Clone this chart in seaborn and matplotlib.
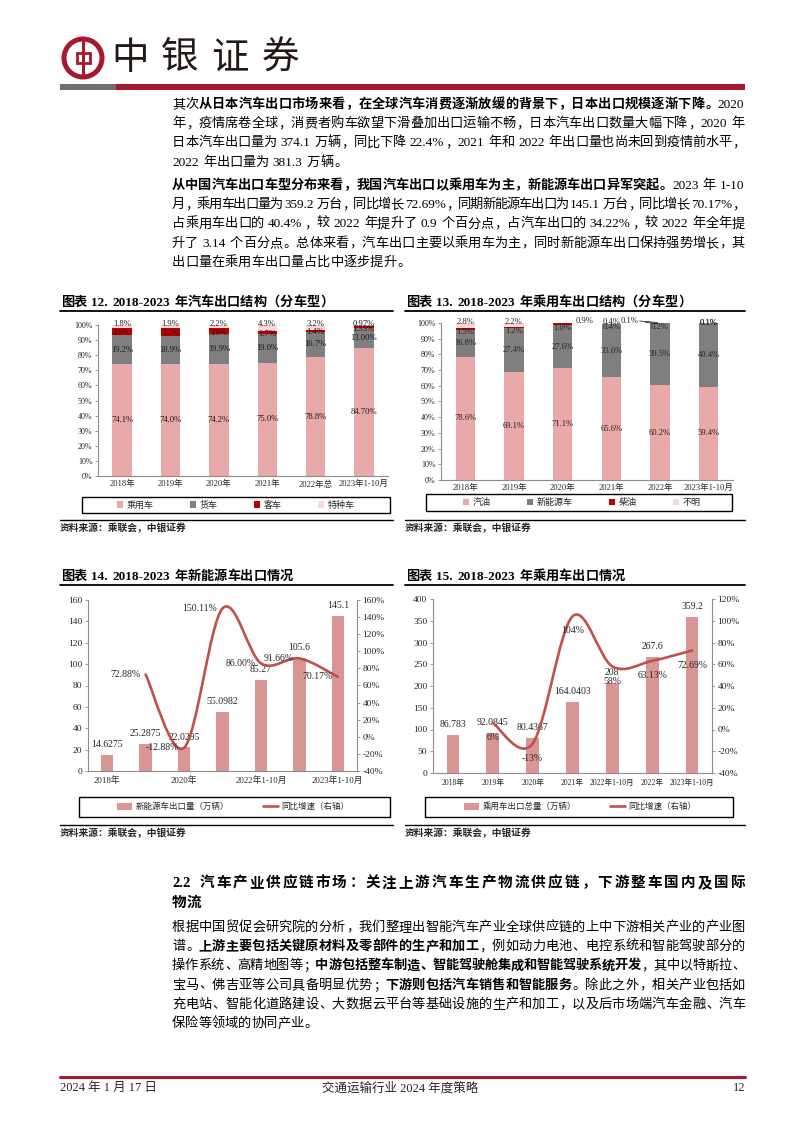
import numpy as np
import pandas as pd
import matplotlib
matplotlib.use('Agg')
import matplotlib.pyplot as plt
import seaborn as sns
from matplotlib.path import Path
from matplotlib.patches import PathPatch, Rectangle, Circle, Patch
from matplotlib.lines import Line2D

# ---------------- data ----------------
c12_cats = ['2018年', '2019年', '2020年', '2021年', '2022年总', '2023年1-10月']
c12_passenger = [74.1, 74.0, 74.2, 75.0, 78.8, 84.70]
c12_truck = [19.2, 18.9, 19.9, 19.0, 16.7, 13.00]
c12_bus = [4.9, 5.2, 3.8, 1.7, 1.4, 1.33]
c12_special = [1.8, 1.9, 2.2, 4.3, 3.2, 0.97]
c12_series = ['乘用车', '货车', '客车', '特种车']

c13_cats = ['2018年', '2019年', '2020年', '2021年', '2022年', '2023年1-10月']
c13_gasoline = [78.6, 69.1, 71.1, 65.6, 60.2, 59.4]
c13_nev = [16.8, 27.4, 27.6, 33.6, 39.5, 40.4]
c13_diesel = [1.5, 1.2, 1.0, 0.4, 0.2, 0.1]
c13_unknown = [2.8, 2.2, 0.9, 0.4, 0.1, 0.1]
c13_series = ['汽油', '新能源车', '柴油', '不明']

c14_cats = ['2018年', '2019年', '2020年', '2021年', '2022年1-10月', '2022年', '2023年1-10月']
c14_nev_export = [14.6275, 25.2875, 22.0295, 55.0982, 85.27, 105.6, 145.1]
c14_yoy = [None, 72.88, -12.88, 150.11, 86.00, 91.66, 70.17]
c14_shown_ticks = ['2018年', '2020年', '2022年1-10月', '2023年1-10月']
c14_series = ['新能源车出口量（万辆）', '同比增速（右轴）']

c15_cats = ['2018年', '2019年', '2020年', '2021年', '2022年1-10月', '2022年', '2023年1-10月']
c15_pv_export = [86.783, 92.0845, 80.4367, 164.0403, 208, 267.6, 359.2]
c15_yoy = [None, 6, -13, 104, 58, 63.13, 72.69]
c15_series = ['乘用车出口总量（万辆）', '同比增速（右轴）']

# ---------------- style ----------------
sns.set_theme(style='white')
FAM = ['Liberation Serif', 'Noto Sans CJK SC', 'DejaVu Sans']
plt.rcParams['font.family'] = FAM
plt.rcParams['axes.unicode_minus'] = False

PINK = '#E8A9A8'
GRAY = '#7F7F7F'
DRED = '#C00000'
LPINK = '#F8D9D9'
BAR = '#D99694'
LINE = '#C0504D'
BRAND = '#A6192E'
SPINE = '#8C8C8C'

W, H = 794, 1123
fig = plt.figure(figsize=(W / 100, H / 100), dpi=100)
page = fig.add_axes([0, 0, 1, 1])
page.set_xlim(0, W)
page.set_ylim(H, 0)
page.axis('off')
renderer = fig.canvas.get_renderer()


def rect(x0, y0, x1, y1):
    return [x0 / W, 1 - y1 / H, (x1 - x0) / W, (y1 - y0) / H]


PUNCT_L = set('，。、；：）')
PUNCT_R = set('（')


def draw_line(runs, x0, yc, size, x1=None, color='black', style='normal'):
    em = size * 100 / 72
    toks = []
    for txt, b in runs:
        buf = ''
        for ch in txt:
            if ord(ch) < 128 and ch != ' ':
                buf += ch
                continue
            if buf:
                toks.append((buf, b))
                buf = ''
            toks.append((ch, b))
        if buf:
            toks.append((buf, b))
    base = yc + 0.36 * em
    items = []
    for t, b in toks:
        fw = 'bold' if b else 'normal'
        if t == ' ':
            items.append((None, 0.28 * em, None))
            continue
        if ord(t[0]) < 128:
            a = page.text(0, base, t, fontsize=size, fontweight=fw, ha='left',
                          va='baseline', color=color, fontstyle=style)
            wd = a.get_window_extent(renderer).width + 0.06 * em
            items.append((a, wd, 'ascii'))
        else:
            ha = 'left' if t in PUNCT_L else ('right' if t in PUNCT_R else 'center')
            a = page.text(0, base, t, fontsize=size, fontweight=fw, ha=ha,
                          va='baseline', color=color, fontstyle=style)
            items.append((a, em, ha))
    total = sum(i[1] for i in items)
    gap = 0
    if x1 is not None and len(items) > 1:
        gap = (x1 - x0 - total) / (len(items) - 1)
    x = x0
    for a, wd, kind in items:
        if a is not None:
            if kind == 'center':
                a.set_x(x + wd / 2)
            elif kind == 'right':
                a.set_x(x + 0.94 * wd)
            elif kind == 'left':
                a.set_x(x + 0.06 * wd)
            else:
                a.set_x(x)
        x += wd + gap


# ---------------- header ----------------
page.add_patch(Circle((83, 58), 19, fill=False, ec=BRAND, lw=3.6))
page.plot([83, 83], [39, 77], color=BRAND, lw=2.2, solid_capstyle='butt')
page.add_patch(Rectangle((76.5, 53), 13, 10, fill=True, fc='white', ec=BRAND, lw=2.0))
for ch, cx in zip('中银证券', [130, 180, 230, 281]):
    page.text(cx, 58, ch, fontsize=27, ha='center', va='center', color='#231815',
              family=['Noto Sans CJK SC'])
page.add_patch(Rectangle((60, 84), 56, 5.5, color='#6E6E6E', lw=0))
page.add_patch(Rectangle((116, 84), 629, 5.5, color=BRAND, lw=0))

# ---------------- body text ----------------
BS = 9.5
XL, XR = 172, 745
p1 = [
    ([('其次', False), ('从日本汽车出口市场来看，在全球汽车消费逐渐放缓的背景下，日本出口规模逐渐下降。', True), ('2020', False)], True),
    ([('年，疫情席卷全球，消费者购车欲望下滑叠加出口运输不畅，日本汽车出口数量大幅下降，2020 年', False)], True),
    ([('日本汽车出口量为 374.1 万辆，同比下降 22.4%，2021 年和 2022 年出口量也尚未回到疫情前水平，', False)], True),
    ([('2022 年出口量为 381.3 万辆。', False)], False),
]
for i, (runs, just) in enumerate(p1):
    draw_line(runs, XL, 103 + i * 19.3, BS, XR if just else None)

p2 = [
    ([('从中国汽车出口车型分布来看，我国汽车出口以乘用车为主，新能源车出口异军突起。', True), ('2023 年 1-10', False)], True),
    ([('月，乘用车出口量为 359.2 万台，同比增长 72.69%，同期新能源车出口为 145.1 万台，同比增长 70.17%，', False)], True),
    ([('占乘用车出口的 40.4%，较 2022 年提升了 0.9 个百分点，占汽车出口的 34.22%，较 2022 年全年提', False)], True),
    ([('升了 3.14 个百分点。总体来看，汽车出口主要以乘用车为主，同时新能源车出口保持强势增长，其', False)], True),
    ([('出口量在乘用车出口量占比中逐步提升。', False)], False),
]
for i, (runs, just) in enumerate(p2):
    draw_line(runs, XL, 184 + i * 19.3, BS, XR if just else None)

draw_line([('2.2 汽车产业供应链市场：关注上游汽车生产物流供应链，下游整车国内及国际', True)], XL, 882, 10.5, XR)
draw_line([('物流', True)], XL, 902, 10.5)

p3 = [
    ([('根据中国贸促会研究院的分析，我们整理出智能汽车产业全球供应链的上中下游相关产业的产业图', False)], True),
    ([('谱。', False), ('上游主要包括关键原材料及零部件的生产和加工', True), ('，例如动力电池、电控系统和智能驾驶部分的', False)], True),
    ([('操作系统、高精地图等；', False), ('中游包括整车制造、智能驾驶舱集成和智能驾驶系统开发', True), ('，其中以特斯拉、', False)], True),
    ([('宝马、佛吉亚等公司具备明显优势；', False), ('下游则包括汽车销售和智能服务', True), ('。除此之外，相关产业包括如', False)], True),
    ([('充电站、智能化道路建设、大数据云平台等基础设施的生产和加工，以及后市场端汽车金融、汽车', False)], True),
    ([('保险等领域的协同产业。', False)], False),
]
for i, (runs, just) in enumerate(p3):
    draw_line(runs, XL, 926 + i * 19.3, BS, XR if just else None)

# footer
page.plot([60, 745], [1077, 1077], color=BRAND, lw=2.2)
page.text(60, 1088, '2024 年 1 月 17 日', fontsize=9, ha='left', va='center')
page.text(400, 1088, '交通运输行业 2024 年度策略', fontsize=9, ha='center', va='center')
page.text(745, 1088, '12', fontsize=9, ha='right', va='center')

# ---------------- chart frames (titles, rules, sources, legend boxes) ----------------
titles = [
    ('图表 12. 2018-2023 年汽车出口结构（分车型）', 61, 301, 60, 393),
    ('图表 13. 2018-2023 年乘用车出口结构（分车型）', 406, 301, 405, 745),
    ('图表 14. 2018-2023 年新能源车出口情况', 61, 575, 60, 393),
    ('图表 15. 2018-2023 年乘用车出口情况', 406, 575, 405, 745),
]
for t, x, y, l0, l1 in titles:
    draw_line([(t, True)], x, y, 9.5)
    page.plot([l0, l1], [y + 10, y + 10], color='black', lw=1.3)

for x0, x1, ly in [(60, 393, 520), (405, 745, 520), (60, 393, 825), (405, 745, 825)]:
    page.plot([x0, x1], [ly, ly], color='black', lw=1.0)
    page.text(x0, ly + 8, '资料来源：乘联会，中银证券', fontsize=7, ha='left', va='center',
              fontstyle='italic', fontweight='bold', family=['Noto Sans CJK SC'])

for x0, y0, x1, y1 in [(82, 497, 390, 513), (426, 494, 732, 511), (79, 797, 390, 817), (425, 797, 733, 817)]:
    page.add_patch(Rectangle((x0, y0), x1 - x0, y1 - y0, fill=False, ec='black', lw=1.0))


def style_axes(ax):
    for s in ['top', 'right', 'left', 'bottom']:
        ax.spines[s].set_visible(False)
    for s in ['left', 'bottom']:
        ax.spines[s].set_visible(True)
        ax.spines[s].set_color(SPINE)
        ax.spines[s].set_linewidth(0.8)
    ax.set_facecolor('none')
    ax.set_xlabel('')
    ax.set_ylabel('')
    ax.tick_params(axis='y', left=True, length=2.5, width=0.6, color=SPINE, pad=1.5, direction='out')
    ax.tick_params(axis='x', bottom=False, length=0, pad=3)


def stacked(ax, cats, layers, colors, width):
    cum = np.cumsum(np.array(layers, dtype=float), axis=0)
    for k in range(len(layers) - 1, -1, -1):
        sns.barplot(x=cats, y=cum[k], color=colors[k], width=width, saturation=1,
                    errorbar=None, ax=ax, linewidth=0)
    return cum


def smooth_path(xs, ys, t=1 / 6):
    pts = list(zip(xs, ys))
    n = len(pts)
    verts = [pts[0]]
    codes = [Path.MOVETO]
    for i in range(n - 1):
        p0 = pts[i - 1] if i > 0 else pts[i]
        p1 = pts[i]
        p2 = pts[i + 1]
        p3 = pts[i + 2] if i + 2 < n else pts[i + 1]
        c1 = (p1[0] + (p2[0] - p0[0]) * t, p1[1] + (p2[1] - p0[1]) * t)
        c2 = (p2[0] - (p3[0] - p1[0]) * t, p2[1] - (p3[1] - p1[1]) * t)
        verts += [c1, c2, p2]
        codes += [Path.CURVE4] * 3
    return Path(verts, codes)


LBL = 6.2
TCK = 5.8

# ---------------- chart 12 ----------------
ax12 = fig.add_axes(rect(98, 325, 388, 476))
c12_layers = [c12_passenger, c12_truck, c12_bus, c12_special]
c12_colors = [PINK, GRAY, DRED, LPINK]
cum12 = stacked(ax12, c12_cats, c12_layers, c12_colors, 0.4)
ax12.set_ylim(0, 100)
ax12.set_xlim(-0.5, len(c12_cats) - 0.5)
ax12.set_yticks(np.arange(0, 101, 10))
ax12.set_yticklabels([f'{v}%' for v in range(0, 101, 10)], fontsize=TCK)
ax12.set_xticks(range(len(c12_cats)))
ax12.set_xticklabels(c12_cats, fontsize=TCK + 0.3)
style_axes(ax12)
for i in range(len(c12_cats)):
    dec = 2 if i == len(c12_cats) - 1 else 1
    vals = [c12_passenger[i], c12_truck[i], c12_bus[i], c12_special[i]]
    lows = [0, cum12[0][i], cum12[1][i], cum12[2][i]]
    ys = [lows[0] + vals[0] / 2, lows[1] + vals[1] / 2, lows[2] + vals[2] / 2 - 1.0, 100.8]
    for v, y in zip(vals, ys):
        ax12.text(i, y, f'{v:.{dec}f}%', ha='center', va='center', fontsize=LBL, color='#1a1a1a', clip_on=False)
h12 = [Patch(facecolor=c, edgecolor='none') for c in c12_colors]
ax12.legend(h12, c12_series, loc='center', bbox_to_anchor=(236 / W, 1 - 505 / H),
            bbox_transform=fig.transFigure, ncol=4, frameon=False, fontsize=6.5,
            handlelength=0.7, handleheight=0.7, handletextpad=0.4, columnspacing=4.0)

# ---------------- chart 13 ----------------
ax13 = fig.add_axes(rect(441, 323, 733, 480))
c13_layers = [c13_gasoline, c13_nev, c13_diesel, c13_unknown]
c13_colors = [PINK, GRAY, DRED, LPINK]
cum13 = stacked(ax13, c13_cats, c13_layers, c13_colors, 0.4)
ax13.set_ylim(0, 100)
ax13.set_xlim(-0.5, len(c13_cats) - 0.5)
ax13.set_yticks(np.arange(0, 101, 10))
ax13.set_yticklabels([f'{v}%' for v in range(0, 101, 10)], fontsize=TCK)
ax13.set_xticks(range(len(c13_cats)))
ax13.set_xticklabels(c13_cats, fontsize=TCK + 0.3)
style_axes(ax13)
for i in range(len(c13_cats)):
    ax13.text(i, c13_gasoline[i] / 2, f'{c13_gasoline[i]:.1f}%', ha='center', va='center', fontsize=LBL)
    ax13.text(i, cum13[0][i] + c13_nev[i] / 2, f'{c13_nev[i]:.1f}%', ha='center', va='center', fontsize=LBL)
    dy = cum13[1][i] + c13_diesel[i] / 2 - 2.2
    if i == 5:
        dy = 100.3
    ax13.text(i, dy, f'{c13_diesel[i]:.1f}%', ha='center', va='center', fontsize=LBL, clip_on=False)
    if i == 2:
        ax13.text(i + 0.27, 101.3, f'{c13_unknown[i]:.1f}%', ha='left', va='center', fontsize=LBL, clip_on=False)
    elif i == 4:
        ax13.text(i - 0.45, 101.3, f'{c13_unknown[i]:.1f}%', ha='right', va='center', fontsize=LBL, clip_on=False)
        ax13.plot([i - 0.42, i - 0.05], [101.3, 100.3], color='black', lw=0.5, clip_on=False)
        ax13.plot([i - 0.3, i - 0.05], [100.4, 99.6], color='black', lw=0.5, clip_on=False)
    else:
        ax13.text(i, 100.8 if i != 5 else 100.3, f'{c13_unknown[i]:.1f}%', ha='center', va='center',
                  fontsize=LBL, clip_on=False)
h13 = [Patch(facecolor=c, edgecolor='none') for c in c13_colors]
ax13.legend(h13, c13_series, loc='center', bbox_to_anchor=(582 / W, 1 - 502.5 / H),
            bbox_transform=fig.transFigure, ncol=4, frameon=False, fontsize=6.5,
            handlelength=0.7, handleheight=0.7, handletextpad=0.4, columnspacing=4.0)


# ---------------- charts 14 & 15 ----------------
def combo(box, cats, bars, yoy, ylim, ystep, rlim, rstep, shown, below, legend_cx, names, tick_fs):
    ax = fig.add_axes(rect(*box))
    df = pd.DataFrame({'cat': cats, 'val': bars})
    sns.barplot(data=df, x='cat', y='val', color=BAR, width=0.32, saturation=1,
                errorbar=None, ax=ax, linewidth=0)
    ax.set_xlim(-0.5, len(cats) - 0.5)
    ax.set_ylim(*ylim)
    yt = np.arange(ylim[0], ylim[1] + 1, ystep)
    ax.set_yticks(yt)
    ax.set_yticklabels([f'{int(v)}' for v in yt], fontsize=6.8)
    pos = [cats.index(c) for c in shown]
    ax.set_xticks(pos)
    ax.set_xticklabels(shown, fontsize=tick_fs)
    style_axes(ax)
    ax.tick_params(axis='x', pad=4)
    for i, v in enumerate(bars):
        ax.annotate(str(v), (i, v), xytext=(0, 7.5), textcoords='offset points',
                    ha='center', va='center', fontsize=7)
    ax2 = ax.twinx()
    ax2.set_ylim(*rlim)
    rt = np.arange(rlim[0], rlim[1] + 1, rstep)
    ax2.set_yticks(rt)
    ax2.set_yticklabels([f'{int(v)}%' for v in rt], fontsize=6.8)
    for s in ['top', 'left', 'bottom']:
        ax2.spines[s].set_visible(False)
    ax2.spines['right'].set_visible(True)
    ax2.spines['right'].set_color(SPINE)
    ax2.spines['right'].set_linewidth(0.8)
    ax2.tick_params(axis='y', right=True, length=2.5, width=0.6, color=SPINE, pad=1.5, direction='out')
    ax2.grid(False)
    xs = [i for i, v in enumerate(yoy) if v is not None]
    ys = [v for v in yoy if v is not None]
    ax2.add_patch(PathPatch(smooth_path(xs, ys), fill=False, ec=LINE, lw=1.9,
                            capstyle='round', joinstyle='round', zorder=3))
    for x, y in zip(xs, ys):
        if below:
            ax2.annotate(f'{y:g}%', (x, y), xytext=(0, -10.5), textcoords='offset points',
                         ha='center', va='center', fontsize=7, zorder=4)
        else:
            ax2.annotate(f'{y:.2f}%', (x, y), xytext=(-4, 0), textcoords='offset points',
                         ha='right', va='center', fontsize=7, zorder=4)
    hs = [Patch(facecolor=BAR, edgecolor='none'), Line2D([0], [0], color=LINE, lw=1.9)]
    ax.legend(hs, names, loc='center', bbox_to_anchor=(legend_cx / W, 1 - 807 / H),
              bbox_transform=fig.transFigure, ncol=2, frameon=False, fontsize=6.1,
              handlelength=1.8, handleheight=0.8, handletextpad=0.4, columnspacing=4.0)
    return ax, ax2


combo((88, 600, 357, 771), c14_cats, c14_nev_export, c14_yoy, (0, 160), 20, (-40, 160), 20,
      c14_shown_ticks, False, 233, c14_series, 6.3)
combo((433, 599, 712, 773), c15_cats, c15_pv_export, c15_yoy, (0, 400), 50, (-40, 120), 20,
      c15_cats, True, 580, c15_series, 5.5)

fig.savefig('out.png', dpi=100)
